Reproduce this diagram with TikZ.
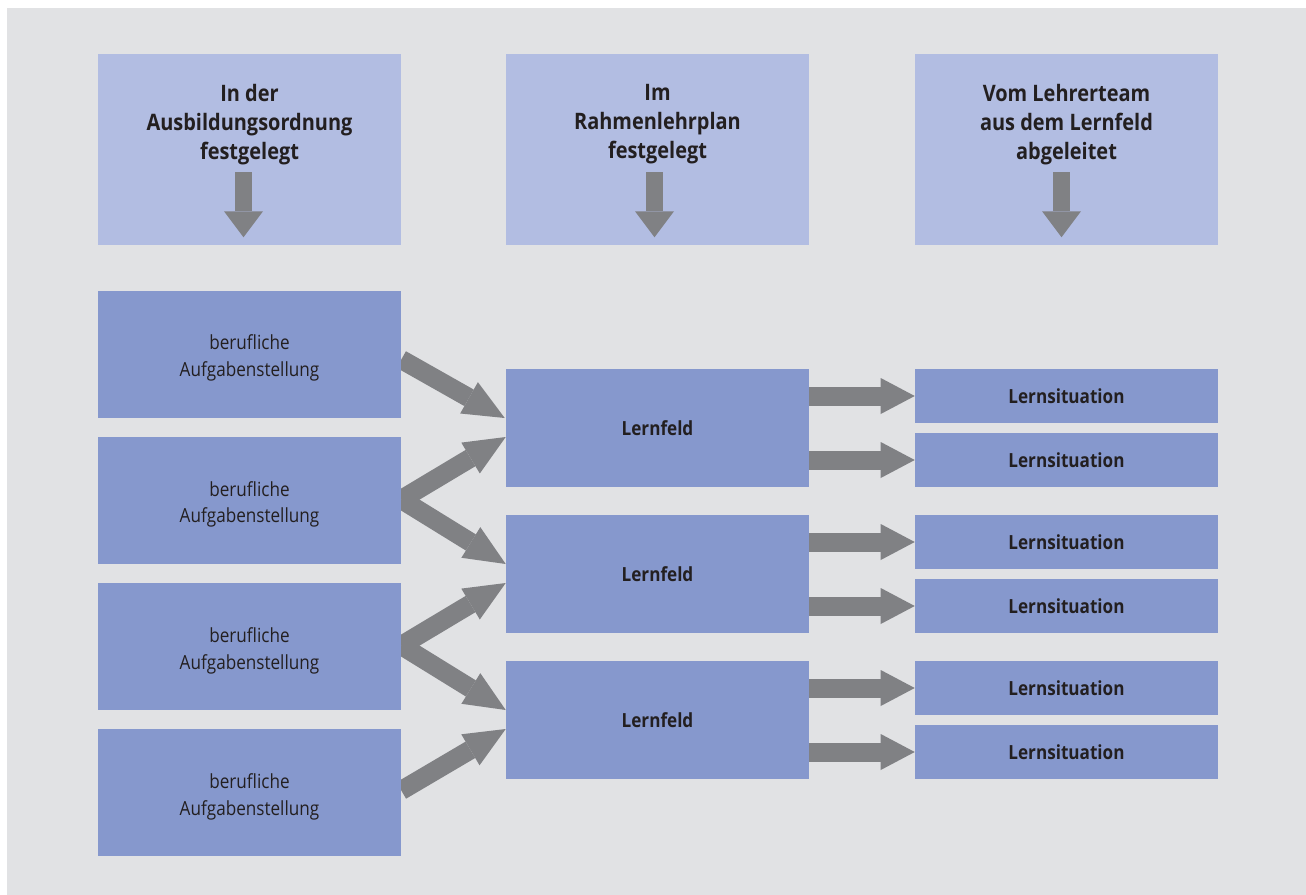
\documentclass[tikz,border=0pt]{standalone}
\usepackage{fontspec}
\setmainfont{Open Sans}[FakeStretch=0.88]
\usetikzlibrary{arrows.meta,calc,backgrounds}
\definecolor{pagegrey}{HTML}{E1E2E4}
\definecolor{lightblue}{HTML}{B2BDE2}
\definecolor{midblue}{HTML}{8698CD}
\definecolor{arrowgrey}{HTML}{808184}
\definecolor{ink}{HTML}{231F20}
% raises the first line of a two-line task label a little
\newcommand\firstline{\rule{0pt}{17pt}}
\begin{document}
\begin{tikzpicture}[x=0.75pt,y=-0.75pt,
  box/.style={draw=none, inner sep=0pt, align=center, text=ink,
    minimum width=303*0.75pt},
  headbox/.style={box, fill=lightblue, minimum height=191*0.75pt},
  headtext/.style={inner sep=0pt, align=center, text=ink,
    font=\fontsize{17}{21.75}\selectfont\bfseries},
  taskbox/.style={box, fill=midblue, minimum height=127*0.75pt,
    font=\fontsize{14.6}{20.25}\selectfont},
  fieldbox/.style={box, fill=midblue, minimum height=118*0.75pt,
    font=\fontsize{14.6}{20.25}\selectfont\bfseries},
  sitbox/.style={box, fill=midblue, minimum height=54*0.75pt,
    font=\fontsize{14.6}{20.25}\selectfont\bfseries},
  flow/.style={draw=arrowgrey, line width=19*0.75pt,
    -{Triangle[width=36*0.75pt, length=41*0.75pt, line width=0pt]}},
  feed/.style={draw=arrowgrey, line width=19*0.75pt,
    -{Triangle[width=36*0.75pt, length=34*0.75pt, line width=0pt]}},
  down/.style={draw=arrowgrey, line width=17*0.75pt,
    -{Triangle[width=39*0.75pt, length=26*0.75pt, line width=0pt]}}
]
\useasboundingbox (0,0) rectangle (1306,895);

% column headings
\node[headbox] (t1) at (249.5,149.5) {};
\node[headbox] (t2) at (657.5,149.5) {};
\node[headbox] (t3) at (1066.5,149.5) {};
\node[headtext, anchor=north] (h1) at ($(t1.north)+(0,30)$) {In der\\Ausbildungsordnung\\festgelegt};
\node[headtext, anchor=north] (h2) at ($(t2.north)+(0,30)$) {Im\\Rahmenlehrplan\\festgelegt};
\node[headtext, anchor=north] (h3) at ($(t3.north)+(0,30)$) {Vom Lehrerteam\\aus dem Lernfeld\\abgeleitet};

% vocational tasks
\node[taskbox] (b1) at (249.5,354.5) {\firstline berufliche\\Aufgabenstellung};
\node[taskbox] (b2) at (249.5,500.5) {\firstline berufliche\\Aufgabenstellung};
\node[taskbox] (b3) at (249.5,646.5) {\firstline berufliche\\Aufgabenstellung};
\node[taskbox] (b4) at (249.5,792.5) {\firstline berufliche\\Aufgabenstellung};

% learning fields
\node[fieldbox] (f1) at (657.5,428) {Lernfeld};
\node[fieldbox] (f2) at (657.5,574) {Lernfeld};
\node[fieldbox] (f3) at (657.5,720) {Lernfeld};

% learning situations
\node[sitbox] (s1) at (1066.5,396) {Lernsituation};
\node[sitbox] (s2) at (1066.5,460) {Lernsituation};
\node[sitbox] (s3) at (1066.5,542) {Lernsituation};
\node[sitbox] (s4) at (1066.5,606) {Lernsituation};
\node[sitbox] (s5) at (1066.5,688) {Lernsituation};
\node[sitbox] (s6) at (1066.5,752) {Lernsituation};

% downward arrows inside the headings
\draw[down] ($(t1.south)+(-6,-73)$) -- ($(t1.south)+(-6,-8)$);
\draw[down] ($(t2.south)+(-3,-73)$) -- ($(t2.south)+(-3,-8)$);
\draw[down] ($(t3.south)+(-5,-73)$) -- ($(t3.south)+(-5,-8)$);

\begin{pgfonlayer}{background}
  \fill[white] (0,0) rectangle (1306,895);
  \fill[pagegrey] (7,8) rectangle (1306,895);
  % tasks -> learning fields
  \draw[flow] ($(b1.east)+(0,5)$) -- ($(f1.west)+(-1,-10)$);
  \draw[flow] ($(b2.east)+(0,-1)$) -- ($(f1.west)+(0,9)$);
  \draw[flow] ($(b2.east)+(0,-1)$) -- ($(f2.west)+(0,-10)$);
  \draw[flow] ($(b3.east)+(0,-1)$) -- ($(f2.west)+(0,9)$);
  \draw[flow] ($(b3.east)+(0,-1)$) -- ($(f3.west)+(0,-10)$);
  \draw[flow] ($(b4.east)+(0,-2)$) -- ($(f3.west)+(0,9)$);
  % learning fields -> learning situations
  \draw[feed] (f1.east |- s1.west) -- (s1.west);
  \draw[feed] (f1.east |- s2.west) -- (s2.west);
  \draw[feed] (f2.east |- s3.west) -- (s3.west);
  \draw[feed] (f2.east |- s4.west) -- (s4.west);
  \draw[feed] (f3.east |- s5.west) -- (s5.west);
  \draw[feed] (f3.east |- s6.west) -- (s6.west);
\end{pgfonlayer}
\end{tikzpicture}
\end{document}
